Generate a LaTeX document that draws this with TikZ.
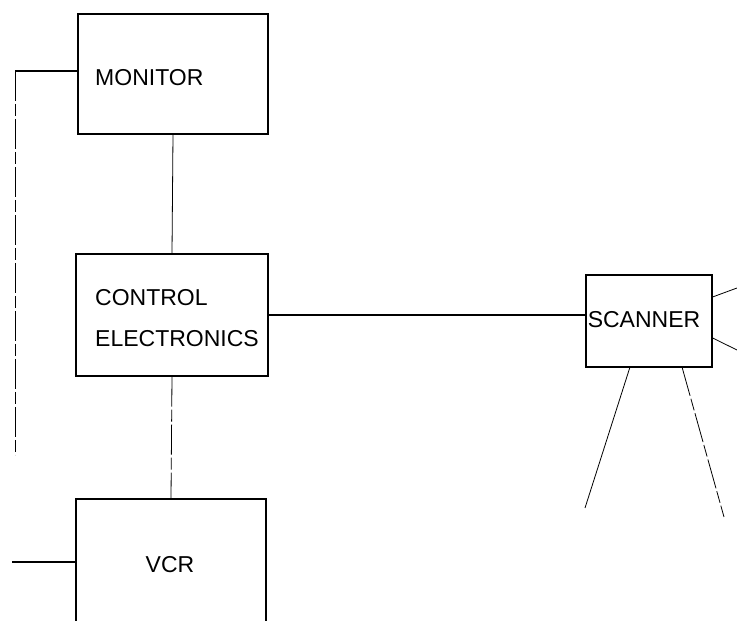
\documentclass[tikz,border=0pt]{standalone}
\usepackage{fontspec}
\setmainfont{Liberation Sans}
\begin{document}
\begin{tikzpicture}[x=1pt,y=1pt,
  box/.style={draw,line width=1.2pt,inner sep=0pt},
  lbl/.style={inner sep=0pt,anchor=west,align=left,font=\fontsize{23}{41}\selectfont},
  wire/.style={line width=0.8pt},
  broken/.style={line width=0.8pt,dash pattern=on 30pt off 3pt on 12pt off 3pt}]
\clip (0,0) rectangle (737,621);
\useasboundingbox (0,0) rectangle (737,621);
% boxes
\node[box,minimum width=190pt,minimum height=120pt] (mon) at (173,547) {};
\node[box,minimum width=192pt,minimum height=122pt] (ctrl) at (172,306) {};
\node[box,minimum width=190pt,minimum height=131pt] (vcr) at (171,56.5) {};
\node[box,minimum width=126pt,minimum height=92pt] (scan) at (649,300) {};
% labels
\node[lbl] (tmon) at (95,543) {MONITOR};
\node[lbl] (tctrl) at (95,303) {CONTROL\\ELECTRONICS};
\node[inner sep=0pt,font=\fontsize{23}{28}\selectfont] (tvcr) at (170,56) {VCR};
\node[inner sep=0pt,font=\fontsize{23}{28}\selectfont] (tscan) at (644,301) {SCANNER};
% free ends
\coordinate (lc) at (15,550);
\coordinate (lb) at (15,166);
\coordinate (vl) at (12,59);
\coordinate (r1) at (737,333);
\coordinate (r2) at (737,271);
\coordinate (s1a) at (630,254);
\coordinate (s1b) at (585,113);
\coordinate (s2a) at (682,254);
\coordinate (s2b) at (724,104);
% connectors
\draw[line width=1.2pt] (mon.west |- lc) -- (lc);
\draw[broken] (lc) -- (lb);
\draw[wire] (mon.south) -- (ctrl.north);
\draw[line width=1.3pt] (ctrl.east) -- (scan.west |- ctrl.east);
\draw[broken] (ctrl.south) -- (vcr.north);
\draw[line width=1.3pt] (vcr.west |- vl) -- (vl);
\draw[wire] (scan.east |- 0,324) -- (r1);
\draw[wire] (scan.east |- 0,283) -- (r2);
\draw[wire] (s1a) -- (s1b);
\draw[broken] (s2a) -- (s2b);
\end{tikzpicture}
\end{document}
